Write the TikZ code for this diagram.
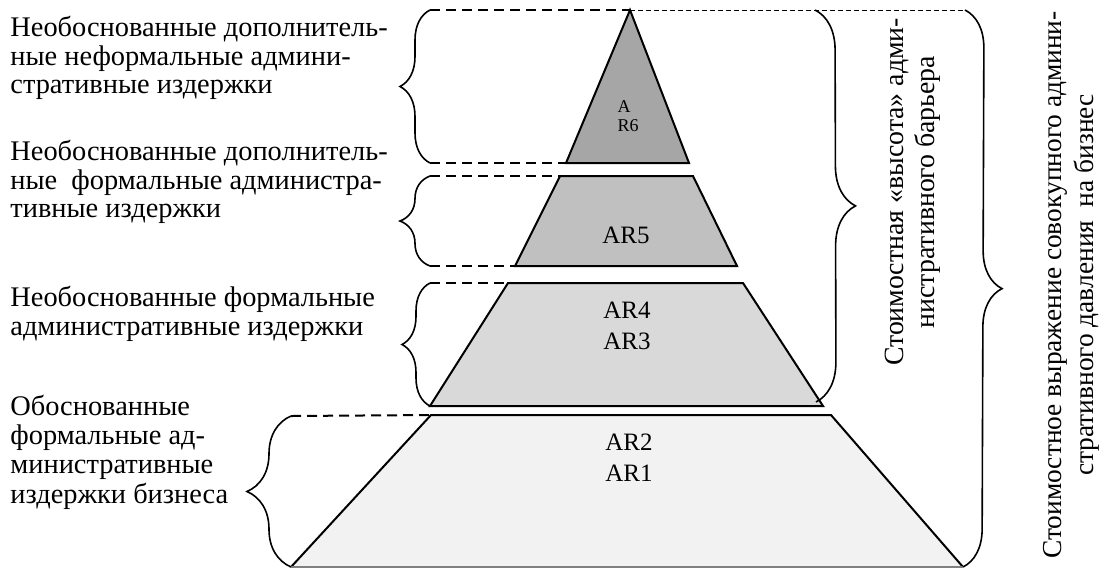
\documentclass[tikz,border=0pt]{standalone}
\usepackage{fontspec}
\setmainfont{Liberation Serif}
\usepackage{tikz}
\usetikzlibrary{decorations.pathreplacing}
\definecolor{lvlsix}{HTML}{A6A6A6}
\definecolor{lvlfive}{HTML}{C0C0C0}
\definecolor{lvlfour}{HTML}{D9D9D9}
\definecolor{lvlone}{HTML}{F2F2F2}

\begin{document}
\begin{tikzpicture}[x=0.5pt,y=-0.5pt,
	layer/.style={draw=black,line width=1pt,line join=miter},
	guide/.style={line width=1pt,dash pattern=on 5pt off 3pt},
	thinguide/.style={line width=0.4pt,dash pattern=on 2.5pt off 1.5pt},
	curly/.style={decorate,decoration={brace,amplitude=#1},line width=0.8pt},
	lbl/.style={align=left,anchor=west,inner sep=0pt,font=\fontsize{14.2}{14.2}\selectfont},
	side/.style={align=center,rotate=90,inner sep=0pt,font=\fontsize{13.9}{15.5}\selectfont},
	arlbl/.style={align=center,inner sep=0pt,font=\fontsize{12.5}{15.5}\selectfont}]
	\useasboundingbox (0,0) rectangle (1107,569);
	
	% corners of the layers
	\coordinate (apex) at (630,10);
	\coordinate (s6l) at (566,163); \coordinate (s6r) at (689,163);
	\coordinate (s5a) at (560,176); \coordinate (s5b) at (693,176);
	\coordinate (s5c) at (737,266); \coordinate (s5d) at (515,266);
	\coordinate (s4a) at (508,283); \coordinate (s4b) at (743,283);
	\coordinate (s4c) at (823,406); \coordinate (s4d) at (430,406);
	\coordinate (s1a) at (431,415); \coordinate (s1b) at (831,415);
	\coordinate (s1c) at (963,567); \coordinate (s1d) at (291,567);
	
	\fill[lvlone] (s1a) -- (s1b) -- (s1c) -- (s1d) -- cycle;
	\draw[layer] (s1d) -- (s1a) -- (s1b) -- (s1c);
	\draw[gray,line width=0.8pt] (s1d) -- (s1c);
	\draw[layer,fill=lvlfour] (s4a) -- (s4b) -- (s4c) -- (s4d) -- cycle;
	\draw[layer,fill=lvlfive] (s5a) -- (s5b) -- (s5c) -- (s5d) -- cycle;
	\draw[layer,fill=lvlsix] (apex) -- (s6r) -- (s6l) -- cycle;
	
	\node[arlbl,align=left,font=\fontsize{9}{9.5}\selectfont] (ar6) at (628,116) {A\\R6};
	\node[arlbl] (ar5) at (626,235) {AR5};
	\node[arlbl] (ar43) at (627,326) {AR4\\AR3};
	\node[arlbl] (ar21) at (629,458) {AR2\\AR1};
	
	% dashed guides and braces on the left
	\coordinate (b1t) at (430,10);  \coordinate (b1b) at (430,163);
	\coordinate (b2t) at (430,176); \coordinate (b2b) at (430,266);
	\coordinate (b3t) at (430,283);
	\coordinate (b4t) at (291,416);
	\draw[guide] (b1t) -- (apex);
	\draw[guide] (b1b) -- (s6l);
	\draw[guide] (b2t) -- (s5a);
	\draw[guide] (b2b) -- (s5d);
	\draw[guide] (b3t) -- (s4a);
	\draw[guide] (b4t) -- (s1a);
	\draw[curly=15pt] (b1b) -- (b1t);
	\draw[curly=15pt] (b2b) -- (b2t);
	\draw[curly=14pt] (s4d) -- (b3t);
	\draw[curly=22pt] (s1d) -- (b4t);
	
	% braces on the right
	\coordinate (rat) at (815,10); \coordinate (rab) at (816,402);
	\coordinate (rbt) at (965,10);
	\draw[thinguide] (apex) -- (rbt);
	\draw[curly=20pt] (rat) -- (rab);
	\draw[curly=19pt] (rbt) -- (s1c);
	
	\node[lbl] (txt6) at (10,58) {Необоснованные дополнитель-\\ные неформальные админи-\\стративные издержки};
	\node[lbl] (txt5) at (10,182) {Необоснованные дополнитель-\\ные~ формальные администра-\\тивные издержки};
	\node[lbl] (txt43) at (10,314) {Необоснованные формальные\\административные издержки};
	\node[lbl,font=\fontsize{14.2}{14.7}\selectfont] (txt21) at (10,452) {Обоснованные\\формальные ад-\\министративные\\издержки бизнеса};
	
	\node[side] (height) at (913,192) {Стоимостная «высота» адми-\\нистративного барьера};
	\node[side,font=\fontsize{13.7}{16}\selectfont] (total) at (1071,285) {Стоимостное выражение совокупного админи-\\стративного давления~ на бизнес};
\end{tikzpicture}
\end{document}
